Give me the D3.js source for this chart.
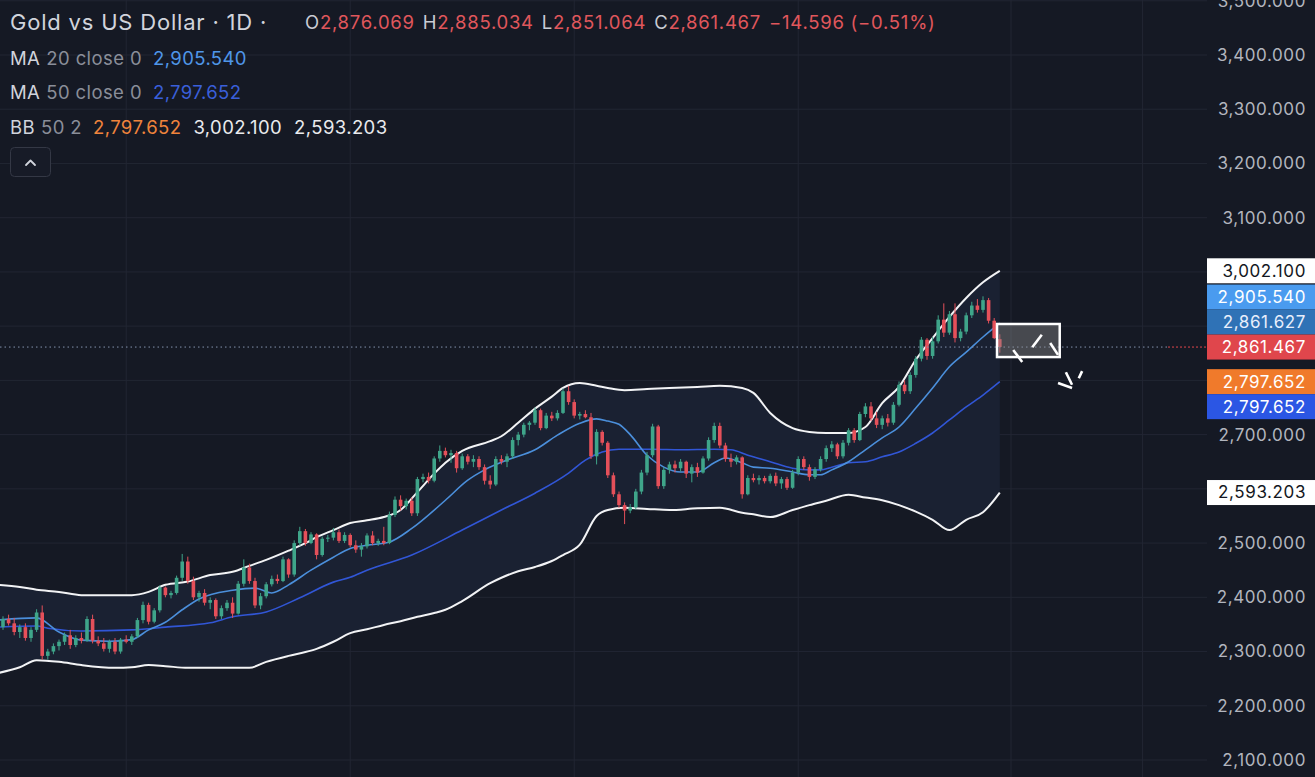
<!DOCTYPE html>
<html>
<head>
<meta charset="utf-8">
<script src="https://cdn.jsdelivr.net/npm/d3@7"></script>
<style>
  body { margin: 0; background: #151924; }
  svg { display: block; font-family: Inter, "Noto Sans", sans-serif; }
</style>
</head>
<body>
<div id="chart"></div>
<script>
// set up svg
var svgWidth = 1315;
var svgHeight = 777;
var plotRight = 1207;

// daily candles, [open, high, low, close]
var candles = [
  [2345,2365,2340,2360],[2360,2368,2348,2352],[2352,2362,2330,2336],[2336,2350,2325,2345],
  [2345,2352,2320,2325],[2325,2345,2318,2340],[2340,2378,2336,2372],[2372,2385,2285,2292],
  [2292,2305,2285,2300],[2300,2315,2295,2310],[2310,2322,2302,2318],[2318,2335,2312,2330],
  [2330,2340,2305,2312],[2312,2330,2308,2325],[2325,2335,2315,2320],[2320,2365,2318,2360],
  [2360,2368,2315,2320],[2320,2328,2310,2315],[2315,2325,2300,2305],[2305,2322,2298,2318],
  [2318,2325,2295,2300],[2300,2325,2296,2322],[2322,2330,2315,2318],[2318,2332,2312,2328],
  [2328,2362,2325,2358],[2358,2392,2352,2386],[2386,2390,2350,2355],[2355,2380,2352,2376],
  [2376,2422,2372,2418],[2418,2420,2400,2404],[2404,2412,2398,2408],[2408,2440,2405,2436],
  [2436,2480,2430,2466],[2466,2475,2425,2430],[2430,2438,2395,2400],[2400,2412,2392,2408],
  [2408,2415,2385,2390],[2390,2400,2378,2395],[2395,2398,2360,2365],[2365,2385,2360,2380],
  [2380,2395,2375,2390],[2390,2400,2362,2370],[2370,2430,2368,2425],[2425,2470,2420,2455],
  [2455,2462,2425,2430],[2430,2436,2380,2385],[2385,2408,2378,2402],[2402,2428,2398,2424],
  [2424,2440,2420,2434],[2434,2442,2425,2430],[2430,2475,2428,2470],[2470,2472,2436,2442],
  [2442,2505,2438,2500],[2500,2530,2495,2522],[2522,2526,2495,2500],[2500,2520,2498,2516],
  [2516,2518,2470,2478],[2478,2512,2475,2508],[2508,2515,2502,2510],[2510,2528,2505,2520],
  [2520,2525,2500,2504],[2504,2520,2500,2515],[2515,2518,2492,2496],[2496,2505,2482,2488],
  [2488,2500,2475,2494],[2494,2518,2490,2514],[2514,2522,2496,2500],[2500,2508,2495,2504],
  [2504,2530,2496,2500],[2500,2558,2498,2552],[2552,2586,2548,2580],[2580,2588,2560,2568],
  [2568,2582,2562,2578],[2578,2584,2550,2555],[2555,2622,2550,2618],[2618,2628,2612,2622],
  [2622,2630,2610,2615],[2615,2660,2612,2656],[2656,2680,2650,2670],[2670,2676,2658,2662],
  [2662,2672,2648,2666],[2666,2670,2630,2638],[2638,2665,2635,2660],[2660,2664,2645,2650],
  [2650,2662,2640,2655],[2655,2660,2635,2640],[2640,2645,2608,2615],[2615,2625,2600,2608],
  [2608,2660,2605,2655],[2655,2662,2645,2650],[2650,2665,2640,2660],[2660,2695,2655,2690],
  [2690,2705,2680,2700],[2700,2722,2695,2718],[2718,2725,2708,2722],[2722,2750,2718,2745],
  [2745,2748,2708,2712],[2712,2740,2710,2735],[2735,2742,2725,2730],[2730,2745,2726,2740],
  [2740,2785,2738,2780],[2780,2790,2755,2760],[2760,2765,2730,2735],[2735,2742,2728,2738],
  [2738,2745,2730,2732],[2732,2740,2655,2660],[2660,2710,2645,2705],[2705,2708,2680,2685],
  [2685,2688,2620,2625],[2625,2630,2585,2590],[2590,2595,2565,2570],[2570,2575,2535,2560],
  [2560,2572,2555,2566],[2566,2600,2562,2595],[2595,2635,2590,2630],[2630,2668,2625,2662],
  [2662,2720,2658,2715],[2715,2718,2600,2605],[2605,2640,2600,2635],[2635,2650,2628,2645],
  [2645,2652,2630,2638],[2638,2655,2632,2650],[2650,2652,2620,2628],[2628,2645,2612,2640],
  [2640,2648,2622,2630],[2630,2660,2628,2656],[2656,2695,2652,2690],[2690,2722,2685,2716],
  [2716,2722,2675,2680],[2680,2685,2650,2655],[2655,2665,2640,2650],[2650,2662,2645,2658],
  [2658,2660,2582,2590],[2590,2625,2588,2620],[2620,2628,2612,2616],[2616,2625,2608,2620],
  [2620,2624,2610,2614],[2614,2628,2610,2624],[2624,2630,2605,2610],[2610,2622,2600,2618],
  [2618,2622,2598,2602],[2602,2635,2600,2630],[2630,2660,2625,2655],[2655,2660,2635,2640],
  [2640,2645,2615,2622],[2622,2640,2618,2636],[2636,2660,2632,2655],[2655,2680,2650,2675],
  [2675,2688,2668,2682],[2682,2685,2655,2660],[2660,2690,2656,2685],[2685,2712,2680,2708],
  [2708,2712,2685,2690],[2690,2742,2688,2738],[2738,2758,2732,2752],[2752,2760,2725,2730],
  [2730,2742,2712,2718],[2718,2735,2710,2730],[2730,2738,2715,2722],[2722,2760,2718,2755],
  [2755,2798,2752,2792],[2792,2800,2775,2780],[2780,2815,2775,2810],[2810,2845,2805,2840],
  [2840,2880,2835,2875],[2875,2878,2838,2845],[2845,2880,2840,2872],[2872,2920,2868,2912],
  [2912,2942,2880,2888],[2888,2928,2884,2922],[2922,2942,2870,2878],[2878,2895,2872,2890],
  [2890,2925,2885,2920],[2920,2945,2915,2938],[2938,2950,2925,2930],[2930,2955,2925,2948],
  [2948,2952,2905,2910],[2910,2915,2876,2878],[2876.069,2885.034,2851.064,2861.467]
];

// moving averages, [candle index, value]
var ma20 = [[-1,2358],[6,2362],[10,2336],[14,2321],[19,2319],[23,2322],[26,2340],[29,2354],
  [32,2377],[35,2397],[41,2413],[45,2417],[48,2408],[51,2423],[55,2450],[59,2474],[62,2490],
  [65,2496],[69,2502],[73,2527],[79,2579],[83,2616],[86,2635],[90,2653],[95,2672],[99,2699],
  [103,2721],[106,2729],[108,2725],[110,2719],[112,2700],[115,2662],[118,2640],[121,2631],
  [124,2631],[127,2648],[129,2657],[132,2648],[134,2640],[137,2638],[141,2631],[144,2626],
  [146,2626],[148,2635],[151,2650],[154,2672],[157,2694],[160,2714],[163,2749],[166,2786],
  [169,2825],[172,2852],[175,2880],[178,2905.54]];

var ma50 = [[-1,2345],[6,2347],[8,2343],[14,2338],[23,2340],[29,2345],[37,2353],[41,2364],
  [47,2373],[53,2399],[59,2428],[62,2437],[65,2450],[73,2478],[82,2524],[89,2561],[95,2592],
  [101,2629],[104,2653],[107,2668],[110,2673],[116,2673],[121,2672],[127,2673],[130,2672],
  [133,2662],[137,2650],[141,2638],[144,2635],[146,2635],[148,2640],[151,2648],[154,2650],
  [157,2659],[160,2668],[163,2684],[166,2703],[169,2727],[172,2751],[175,2773],[178,2797.652]];

// bollinger bands (50, 2)
var bbIdx = [-1,3,6,10,14,20,23,26,29,33,37,41,44,47,51,54,56,59,62,65,68,71,74,77,79,82,87,89,
  92,95,98,100,103,106,108,111,115,119,124,128,132,134,137,141,144,147,151,154,157,160,163,166,
  169,172,175,178];
var bbUpper = [2423,2419,2414,2410,2404,2404,2404,2410,2423,2429,2441,2447,2458,2469,2486,2500,
  2511,2524,2537,2542,2548,2561,2594,2628,2648,2670,2688,2697,2722,2748,2770,2786,2795,2790,
  2786,2782,2784,2786,2788,2790,2786,2777,2740,2712,2705,2703,2703,2714,2758,2788,2838,2878,
  2917,2952,2981,3002.1];
var bbLower = [2260,2271,2284,2281,2275,2270,2271,2275,2273,2270,2270,2270,2270,2281,2292,2299,
  2305,2318,2334,2341,2349,2356,2364,2371,2377,2393,2426,2436,2448,2456,2467,2478,2497,2550,
  2561,2565,2563,2561,2564,2565,2556,2553,2548,2561,2570,2578,2589,2584,2579,2570,2558,2543,
  2524,2543,2557,2593.203];

// price axis
var priceTicks = [2100,2200,2300,2400,2500,2600,2700,2800,2900,3000,3100,3200,3300,3400,3500];
var gridIdx = [22, 62, 102, 142, 180, 203.5];

// value tags on the price scale (top to bottom), the 4th is the last price
var tagValues = [3002.100, 2905.540, 2861.627, 2861.467, 2797.652, 2797.652, 2593.203];
var tagFills = ["#ffffff", "#4a9bef", "#2f72b6", "#e0464c", "#f07a2b", "#2b56e4", "#ffffff"];
var tagTexts = ["#131722", "#ffffff", "#e8eefc", "#ffffff", "#ffffff", "#ffffff", "#131722"];
var lastIdx = 3;

// drawn annotation: box [idx, price] corners and marker strokes
var noteBox = [[177.5, 2904], [188.7, 2843]];
var noteStrokes = [
  [[180.4, 2856], [182.0, 2834]],
  [[183.8, 2861], [185.5, 2884]],
  [[187.0, 2869], [188.4, 2847]],
  [[188.4, 2795], [190.9, 2786]],
  [[189.8, 2815], [190.9, 2792]],
  [[192.7, 2817], [192.1, 2804]]
];

var fmt = d3.format(",.3f");
var upColor = "#3fa58a";
var downColor = "#e5505a";

var svg = d3.select("#chart")
  .append("svg")
  .attr("width", svgWidth)
  .attr("height", svgHeight);

svg.append("rect")
  .attr("width", svgWidth)
  .attr("height", svgHeight)
  .attr("fill", "#151924");

var x = d3.scaleLinear().domain([0, 214]).range([3, 1201.4]);
var y = d3.scaleLinear().domain([2100, 3400]).range([760, 55]);

// grid
var grid = svg.append("g");
grid.selectAll(".hgrid")
  .data(priceTicks)
  .enter()
  .append("line")
  .attr("x1", 0)
  .attr("x2", plotRight)
  .attr("y1", d => y(d))
  .attr("y2", d => y(d))
  .attr("stroke", "#222633")
  .attr("stroke-width", 1);

grid.selectAll(".vgrid")
  .data(gridIdx)
  .enter()
  .append("line")
  .attr("x1", d => x(d))
  .attr("x2", d => x(d))
  .attr("y1", 0)
  .attr("y2", svgHeight)
  .attr("stroke", "#222633")
  .attr("stroke-width", 1);

svg.append("clipPath")
  .attr("id", "plotClip")
  .append("rect")
  .attr("width", plotRight)
  .attr("height", svgHeight);

var plot = svg.append("g").attr("clip-path", "url(#plotClip)");

// bollinger band fill + lines
var bbArea = d3.area()
  .x((d, i) => x(bbIdx[i]))
  .y0((d, i) => y(bbLower[i]))
  .y1(d => y(d))
  .curve(d3.curveMonotoneX);

plot.append("path")
  .datum(bbUpper)
  .attr("d", bbArea)
  .attr("fill", "#1a2132");

var bbLine = d3.line()
  .x((d, i) => x(bbIdx[i]))
  .y(d => y(d))
  .curve(d3.curveMonotoneX);

[bbUpper, bbLower].forEach(function(band) {
  plot.append("path")
    .datum(band)
    .attr("d", bbLine)
    .attr("fill", "none")
    .attr("stroke", "#f2f3f5")
    .attr("stroke-width", 2);
});

// moving averages
var maLine = d3.line()
  .x(d => x(d[0]))
  .y(d => y(d[1]))
  .curve(d3.curveMonotoneX);

plot.append("path")
  .datum(ma50)
  .attr("d", maLine)
  .attr("fill", "none")
  .attr("stroke", "#3156d6")
  .attr("stroke-width", 1.6);

plot.append("path")
  .datum(ma20)
  .attr("d", maLine)
  .attr("fill", "none")
  .attr("stroke", "#4b8fdb")
  .attr("stroke-width", 1.6);

// candles
var candleG = plot.selectAll(".candle")
  .data(candles)
  .enter()
  .append("g");

candleG.append("line")
  .attr("x1", (d, i) => x(i))
  .attr("x2", (d, i) => x(i))
  .attr("y1", d => y(d[1]))
  .attr("y2", d => y(d[2]))
  .attr("stroke", d => d[3] >= d[0] ? upColor : downColor)
  .attr("stroke-width", 1);

candleG.append("rect")
  .attr("x", (d, i) => x(i) - 1.8)
  .attr("width", 3.6)
  .attr("y", d => y(Math.max(d[0], d[3])))
  .attr("height", d => Math.max(1, Math.abs(y(d[0]) - y(d[3]))))
  .attr("fill", d => d[3] >= d[0] ? upColor : downColor);

// last price line
var lastPrice = candles[candles.length - 1][3];
svg.append("line")
  .attr("x1", 0)
  .attr("x2", 1168)
  .attr("y1", y(lastPrice))
  .attr("y2", y(lastPrice))
  .attr("stroke", "#8392ad")
  .attr("stroke-width", 1)
  .attr("stroke-dasharray", "1.5,3");
svg.append("line")
  .attr("x1", 1168)
  .attr("x2", plotRight)
  .attr("y1", y(lastPrice))
  .attr("y2", y(lastPrice))
  .attr("stroke", "#e0464c")
  .attr("stroke-width", 1)
  .attr("stroke-dasharray", "2,2");

// annotation box + strokes
svg.append("rect")
  .attr("x", x(noteBox[0][0]))
  .attr("y", y(noteBox[0][1]))
  .attr("width", x(noteBox[1][0]) - x(noteBox[0][0]))
  .attr("height", y(noteBox[1][1]) - y(noteBox[0][1]))
  .attr("fill", "rgba(140,140,140,0.42)")
  .attr("stroke", "#ffffff")
  .attr("stroke-width", 2.5);

svg.selectAll(".stroke")
  .data(noteStrokes)
  .enter()
  .append("line")
  .attr("x1", d => x(d[0][0]))
  .attr("y1", d => y(d[0][1]))
  .attr("x2", d => x(d[1][0]))
  .attr("y2", d => y(d[1][1]))
  .attr("stroke", "#ffffff")
  .attr("stroke-width", 2.6)
  .attr("stroke-linecap", "butt");

// tag layout: push tags apart around the last price tag
var tagH = 25;
var tagY = tagValues.map(v => y(v));
for (var i = lastIdx - 1; i >= 0; i--) tagY[i] = Math.min(tagY[i], tagY[i + 1] - tagH);
for (var j = lastIdx + 1; j < tagValues.length; j++) tagY[j] = Math.max(tagY[j], tagY[j - 1] + tagH);

// price axis labels
var axis = d3.axisLeft(y)
  .tickValues(priceTicks)
  .tickFormat(fmt)
  .tickSize(0)
  .tickPadding(0);

var axisG = svg.append("g")
  .attr("transform", "translate(1306,0)")
  .call(axis);
axisG.select(".domain").remove();
axisG.attr("font-family", "Inter, 'Noto Sans', sans-serif").attr("font-size", 17);
axisG.selectAll("text")
  .attr("fill", "#b2b5be")
  .attr("letter-spacing", 0.6);
axisG.selectAll(".tick")
  .filter(d => tagY.some(t => Math.abs(y(d) - t) < 22))
  .remove();

var tagG = svg.selectAll(".tag")
  .data(tagValues)
  .enter()
  .append("g");

tagG.append("rect")
  .attr("x", plotRight)
  .attr("y", (d, i) => tagY[i] - tagH / 2)
  .attr("width", svgWidth - plotRight)
  .attr("height", tagH)
  .attr("fill", (d, i) => tagFills[i]);

tagG.append("text")
  .attr("x", 1306)
  .attr("y", (d, i) => tagY[i])
  .attr("dy", "0.35em")
  .attr("text-anchor", "end")
  .attr("font-size", 17)
  .attr("letter-spacing", 0.6)
  .attr("fill", (d, i) => tagTexts[i])
  .text(d => fmt(d));

// legend
var last = candles[candles.length - 1];
var legend = svg.append("g");

legend.append("text")
  .attr("x", 10)
  .attr("y", 30)
  .attr("font-size", 22)
  .attr("letter-spacing", 0.8)
  .attr("fill", "#d1d4dc")
  .text("Gold vs US Dollar · 1D ·");

var ohlc = legend.append("text")
  .attr("x", 305)
  .attr("y", 29)
  .attr("font-size", 18.5)
  .attr("letter-spacing", 0.75);
[["O", last[0]], ["H", last[1]], ["L", last[2]], ["C", last[3]]].forEach(function(p, k) {
  ohlc.append("tspan").attr("dx", k ? 8 : 0).attr("fill", "#c9ccd4").text(p[0]);
  ohlc.append("tspan").attr("fill", "#e0575c").text(fmt(p[1]));
});
ohlc.append("tspan").attr("dx", 8).attr("fill", "#e0575c").text("−14.596 (−0.51%)");

var rows = [
  {y: 65, name: "MA", params: "20 close 0", vals: [ma20[ma20.length - 1][1]], colors: ["#4f96e8"]},
  {y: 99, name: "MA", params: "50 close 0", vals: [ma50[ma50.length - 1][1]], colors: ["#3a5fd9"]},
  {y: 134, name: "BB", params: "50 2", vals: [ma50[ma50.length - 1][1], bbUpper[bbUpper.length - 1], bbLower[bbLower.length - 1]],
    colors: ["#f0843c", "#e9eaed", "#e9eaed"]}
];

rows.forEach(function(r) {
  var t = legend.append("text").attr("x", 10).attr("y", r.y).attr("font-size", 18.5).attr("letter-spacing", 0.4);
  t.append("tspan").attr("fill", "#d1d4dc").text(r.name);
  t.append("tspan").attr("dx", 6).attr("fill", "#8a8e99").text(r.params);
  r.vals.forEach(function(v, k) {
    t.append("tspan").attr("dx", k ? 12 : 11).attr("fill", r.colors[k]).text(fmt(v));
  });
});

// collapse button
legend.append("rect")
  .attr("x", 10.5)
  .attr("y", 147.5)
  .attr("width", 40)
  .attr("height", 29)
  .attr("rx", 4)
  .attr("fill", "#171b27")
  .attr("stroke", "#343845");
legend.append("path")
  .attr("d", "M26,165 L30.5,160.5 L35,165")
  .attr("fill", "none")
  .attr("stroke", "#d1d4dc")
  .attr("stroke-width", 1.8)
  .attr("stroke-linecap", "round")
  .attr("stroke-linejoin", "round");
</script>
</body>
</html>
